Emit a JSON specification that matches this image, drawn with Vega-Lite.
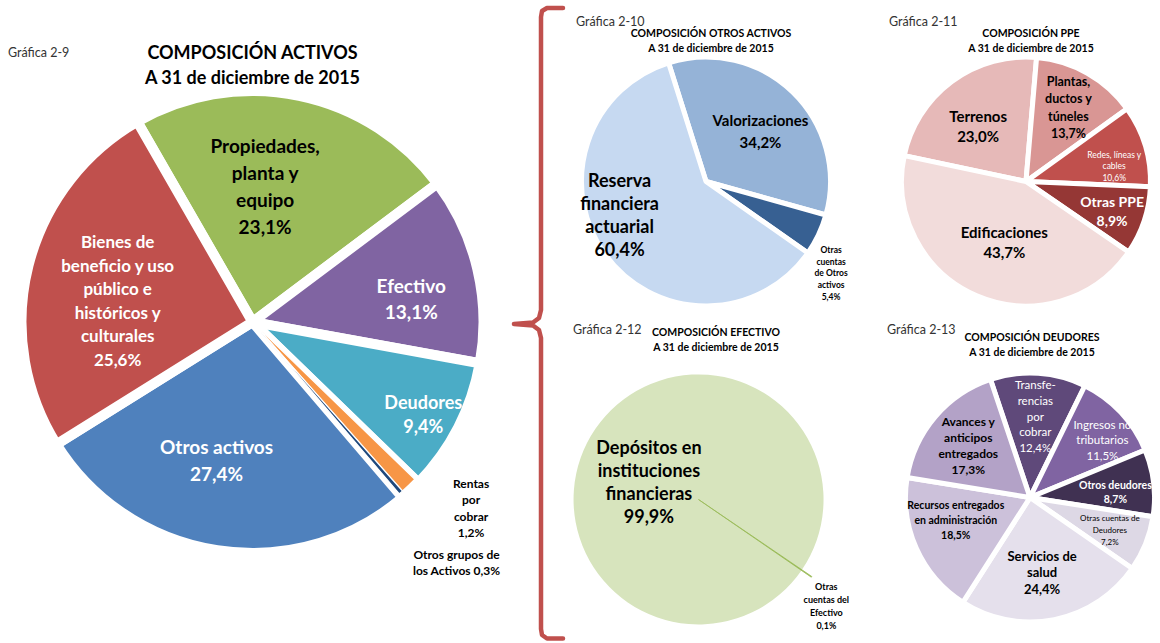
{
"$schema": "https://vega.github.io/schema/vega-lite/v6.json",
"background": "white",
"padding": {"top": 5, "left": 0, "right": 0, "bottom": 0},
"spacing": 0,
"config": {"font": "Lato", "view": {"stroke": null}, "text": {"lineBreak": "\n"}, "title": {"color": "#000000", "fontWeight": "bold", "subtitleColor": "#000000", "subtitleFontWeight": "bold", "subtitleFont": "Lato"}},
"resolve": {"scale": {"color": "independent", "theta": "independent"}},
"hconcat": [
 {"spacing": 0, "resolve": {"scale": {"color": "independent", "theta": "independent"}},
  "vconcat": [
   {"width": 10, "height": 38, "data": {"values": [{}]}, "mark": "text", "encoding": {"text": {"value": ""}}},
   {"spacing": 0, "resolve": {"scale": {"color": "independent", "theta": "independent"}},
    "title": {"text": "Gráfica 2-9", "anchor": "start", "fontSize": 12.5, "fontWeight": "normal", "color": "#333333", "dx": 8, "dy": 14, "offset": 0},
    "vconcat": [
     {"title": {"text": "COMPOSICIÓN ACTIVOS", "subtitle": "A 31 de diciembre de 2015", "fontSize": 18, "subtitleFontSize": 18, "subtitlePadding": 7, "anchor": "middle", "offset": -17},
      "width": 505, "height": 462,
      "data": {"values": [
        {"ord": 1, "name": "Propiedades", "value": 23.1, "label": "Propiedades,\nplanta y\nequipo\n23,1%"},
        {"ord": 2, "name": "Efectivo", "value": 13.1, "label": "Efectivo\n13,1%"},
        {"ord": 3, "name": "Deudores", "value": 9.4, "label": "Deudores\n9,4%"},
        {"ord": 4, "name": "Rentas", "value": 1.2, "label": "Rentas\npor\ncobrar\n1,2%"},
        {"ord": 5, "name": "Otros grupos", "value": 0.3, "label": "Otros grupos de\nlos Activos 0,3%"},
        {"ord": 6, "name": "Otros activos", "value": 27.4, "label": "Otros  activos\n27,4%"},
        {"ord": 7, "name": "Bienes", "value": 25.6, "label": "Bienes de\nbeneficio y uso\npúblico e\nhistóricos y\nculturales\n25,6%"}
      ]},
      "encoding": {
        "theta": {"field": "value", "type": "quantitative", "stack": true, "scale": {"domain": [0, 100.1], "range": [-0.5219, 5.7613]}},
        "order": {"field": "ord", "type": "quantitative"},
        "detail": {"field": "name", "type": "nominal"}
      },
      "layer": [
        {"mark": {"type": "arc", "radius": 231, "stroke": "white", "strokeWidth": 10},
         "encoding": {"color": {"field": "name", "type": "nominal", "legend": null, "scale": {"domain": ["Propiedades", "Efectivo", "Deudores", "Rentas", "Otros grupos", "Otros activos", "Bienes"], "range": ["#9BBB59", "#8064A2", "#4BACC6", "#F79646", "#1F497D", "#4F81BD", "#C0504D"]}}}},
        {"mark": {"type": "arc", "radius": 226, "innerRadius": 14, "stroke": "white", "strokeWidth": 1.2},
         "encoding": {"color": {"field": "name", "type": "nominal", "legend": null}, "opacity": {"condition": {"test": "datum.ord === 4 || datum.ord === 5", "value": 1}, "value": 0}}},
        {"transform": [{"stack": "value", "groupby": [], "sort": [{"field": "ord", "order": "ascending"}], "as": ["v0", "v1"]}, {"filter": "datum.name === 'Propiedades'"}],
         "mark": {"type": "text", "radius": 137, "thetaOffset": 0.7250, "dx": -15, "dy": -40.5, "fontSize": 19, "fontWeight": "bold", "color": "#000000", "lineHeight": 27},
         "encoding": {"theta": {"field": "v0", "type": "quantitative", "stack": null, "scale": {"domain": [0, 100.1], "range": [-0.5219, 5.7613]}}, "text": {"field": "label", "type": "nominal"}}},
        {"transform": [{"stack": "value", "groupby": [], "sort": [{"field": "ord", "order": "ascending"}], "as": ["v0", "v1"]}, {"filter": "datum.name === 'Efectivo'"}],
         "mark": {"type": "text", "radius": 160, "thetaOffset": 0.4111, "dx": 3, "dy": 2, "fontSize": 19, "fontWeight": "bold", "color": "#ffffff", "lineHeight": 26},
         "encoding": {"theta": {"field": "v0", "type": "quantitative", "stack": null, "scale": {"domain": [0, 100.1], "range": [-0.5219, 5.7613]}}, "text": {"field": "label", "type": "nominal"}}},
        {"transform": [{"stack": "value", "groupby": [], "sort": [{"field": "ord", "order": "ascending"}], "as": ["v0", "v1"]}, {"filter": "datum.name === 'Deudores'"}],
         "mark": {"type": "text", "radius": 192, "thetaOffset": 0.2950, "dx": 0, "dy": -6, "fontSize": 18, "fontWeight": "bold", "color": "#ffffff", "lineHeight": 24},
         "encoding": {"theta": {"field": "v0", "type": "quantitative", "stack": null, "scale": {"domain": [0, 100.1], "range": [-0.5219, 5.7613]}}, "text": {"field": "label", "type": "nominal"}}},
        {"transform": [{"stack": "value", "groupby": [], "sort": [{"field": "ord", "order": "ascending"}], "as": ["v0", "v1"]}, {"filter": "datum.name === 'Rentas'"}],
         "mark": {"type": "text", "radius": 280, "thetaOffset": 0.0377, "dx": 25, "dy": -40.75, "fontSize": 12, "fontWeight": "bold", "color": "#000000", "lineHeight": 16.5},
         "encoding": {"theta": {"field": "v0", "type": "quantitative", "stack": null, "scale": {"domain": [0, 100.1], "range": [-0.5219, 5.7613]}}, "text": {"field": "label", "type": "nominal"}}},
        {"transform": [{"stack": "value", "groupby": [], "sort": [{"field": "ord", "order": "ascending"}], "as": ["v0", "v1"]}, {"filter": "datum.name === 'Otros grupos'"}],
         "mark": {"type": "text", "radius": 300, "thetaOffset": 0.0094, "dx": 7, "dy": 7, "fontSize": 12, "fontWeight": "bold", "color": "#000000", "lineHeight": 16},
         "encoding": {"theta": {"field": "v0", "type": "quantitative", "stack": null, "scale": {"domain": [0, 100.1], "range": [-0.5219, 5.7613]}}, "text": {"field": "label", "type": "nominal"}}},
        {"transform": [{"stack": "value", "groupby": [], "sort": [{"field": "ord", "order": "ascending"}], "as": ["v0", "v1"]}, {"filter": "datum.name === 'Otros activos'"}],
         "mark": {"type": "text", "radius": 144, "thetaOffset": 0.8599, "dx": -14, "dy": -16.5, "fontSize": 19, "fontWeight": "bold", "color": "#ffffff", "lineHeight": 27},
         "encoding": {"theta": {"field": "v0", "type": "quantitative", "stack": null, "scale": {"domain": [0, 100.1], "range": [-0.5219, 5.7613]}}, "text": {"field": "label", "type": "nominal"}}},
        {"transform": [{"stack": "value", "groupby": [], "sort": [{"field": "ord", "order": "ascending"}], "as": ["v0", "v1"]}, {"filter": "datum.name === 'Bienes'"}],
         "mark": {"type": "text", "radius": 139, "thetaOffset": 0.8034, "dx": 0, "dy": -44.75, "fontSize": 17, "fontWeight": "bold", "color": "#ffffff", "lineHeight": 23.5},
         "encoding": {"theta": {"field": "v0", "type": "quantitative", "stack": null, "scale": {"domain": [0, 100.1], "range": [-0.5219, 5.7613]}}, "text": {"field": "label", "type": "nominal"}}}
      ]}
    ]}
  ]},
 {"width": 60, "height": 634,
  "data": {"values": [
    {"i": 1, "x": 58, "y": 1}, {"i": 2, "x": 42, "y": 1}, {"i": 3, "x": 37, "y": 4}, {"i": 4, "x": 36, "y": 10},
    {"i": 5, "x": 36, "y": 303}, {"i": 6, "x": 34, "y": 311}, {"i": 7, "x": 28, "y": 315.5}, {"i": 8, "x": 9, "y": 317},
    {"i": 9, "x": 28, "y": 318.5}, {"i": 10, "x": 34, "y": 323}, {"i": 11, "x": 36, "y": 331}, {"i": 12, "x": 36, "y": 622},
    {"i": 13, "x": 37, "y": 628}, {"i": 14, "x": 42, "y": 631.5}, {"i": 15, "x": 58, "y": 631.5}
  ]},
  "mark": {"type": "line", "color": "#C0504D", "strokeWidth": 4.5, "strokeCap": "round", "strokeJoin": "round"},
  "encoding": {
    "x": {"field": "x", "type": "quantitative", "scale": {"domain": [0, 60], "nice": false, "zero": false}, "axis": null},
    "y": {"field": "y", "type": "quantitative", "scale": {"domain": [0, 634], "nice": false, "reverse": true}, "axis": null},
    "order": {"field": "i", "type": "quantitative"}
  }},
 {"spacing": 0, "resolve": {"scale": {"color": "independent", "theta": "independent"}},
  "vconcat": [
   {"width": 10, "height": 8, "data": {"values": [{}]}, "mark": {"type": "text", "fontSize": 1}, "encoding": {"text": {"value": ""}}},
   {"spacing": 41, "resolve": {"scale": {"color": "independent", "theta": "independent"}},
    "hconcat": [
     {"spacing": 0, "resolve": {"scale": {"color": "independent", "theta": "independent"}},
      "title": {"text": "Gráfica 2-10", "anchor": "start", "fontSize": 12.5, "fontWeight": "normal", "color": "#333333", "dx": 10, "offset": 1},
      "vconcat": [
       {"title": {"text": "COMPOSICIÓN  OTROS ACTIVOS", "subtitle": "A 31 de diciembre de 2015", "fontSize": 10.5, "subtitleFontSize": 10.5, "subtitlePadding": 4.5, "anchor": "middle", "offset": 0, "dx": 5},
        "width": 280, "height": 249,
        "data": {"values": [
          {"ord": 1, "name": "Valorizaciones", "value": 34.2, "label": "Valorizaciones\n34,2%"},
          {"ord": 2, "name": "Otras cuentas", "value": 5.4, "label": "Otras\ncuentas\nde Otros\nactivos\n5,4%"},
          {"ord": 3, "name": "Reserva", "value": 60.4, "label": "Reserva\nfinanciera\nactuarial\n60,4%"}
        ]},
        "encoding": {
          "theta": {"field": "value", "type": "quantitative", "stack": true, "scale": {"domain": [0, 100], "range": [-0.30543, 5.97776]}},
          "order": {"field": "ord", "type": "quantitative"},
          "detail": {"field": "name", "type": "nominal"}
        },
        "layer": [
          {"mark": {"type": "arc", "radius": 124.5, "stroke": "white", "strokeWidth": 5, "strokeJoin": "bevel"},
           "encoding": {"color": {"field": "name", "type": "nominal", "legend": null, "scale": {"domain": ["Valorizaciones", "Otras cuentas", "Reserva"], "range": ["#95B3D7", "#376092", "#C6D9F1"]}}}},
          {"transform": [{"stack": "value", "groupby": [], "sort": [{"field": "ord", "order": "ascending"}], "as": ["v0", "v1"]}, {"filter": "datum.name === 'Valorizaciones'"}],
           "mark": {"type": "text", "radius": 74, "thetaOffset": 1.0744, "dx": 3, "dy": -7, "fontSize": 15, "fontWeight": "bold", "color": "#000000", "lineHeight": 22},
           "encoding": {"theta": {"field": "v0", "type": "quantitative", "stack": null, "scale": {"domain": [0, 100], "range": [-0.30543, 5.97776]}}, "text": {"field": "label", "type": "nominal"}}},
          {"transform": [{"stack": "value", "groupby": [], "sort": [{"field": "ord", "order": "ascending"}], "as": ["v0", "v1"]}, {"filter": "datum.name === 'Otras cuentas'"}],
           "mark": {"type": "text", "radius": 155, "thetaOffset": 0.1696, "dx": -15, "dy": 2, "fontSize": 8.5, "fontWeight": "bold", "color": "#000000", "lineHeight": 11.7},
           "encoding": {"theta": {"field": "v0", "type": "quantitative", "stack": null, "scale": {"domain": [0, 100], "range": [-0.30543, 5.97776]}}, "text": {"field": "label", "type": "nominal"}}},
          {"transform": [{"stack": "value", "groupby": [], "sort": [{"field": "ord", "order": "ascending"}], "as": ["v0", "v1"]}, {"filter": "datum.name === 'Reserva'"}],
           "mark": {"type": "text", "radius": 96, "thetaOffset": 1.8975, "dx": -9, "dy": -56.5, "fontSize": 18, "fontWeight": "bold", "color": "#000000", "lineHeight": 23},
           "encoding": {"theta": {"field": "v0", "type": "quantitative", "stack": null, "scale": {"domain": [0, 100], "range": [-0.30543, 5.97776]}}, "text": {"field": "label", "type": "nominal"}}}
        ]}
      ]},
     {"spacing": 0, "resolve": {"scale": {"color": "independent", "theta": "independent"}},
      "title": {"text": "Gráfica 2-11", "anchor": "start", "fontSize": 12.5, "fontWeight": "normal", "color": "#333333", "dx": -2, "offset": 1},
      "vconcat": [
       {"title": {"text": "COMPOSICIÓN  PPE", "subtitle": "A 31 de diciembre de 2015", "fontSize": 10.5, "subtitleFontSize": 10.5, "subtitlePadding": 4.5, "anchor": "middle", "offset": 0, "dx": 5},
        "width": 270, "height": 249,
        "data": {"values": [
          {"ord": 1, "name": "Terrenos", "value": 23.0, "label": "Terrenos\n23,0%"},
          {"ord": 2, "name": "Plantas", "value": 13.7, "label": "Plantas,\nductos y\ntúneles\n13,7%"},
          {"ord": 3, "name": "Redes", "value": 10.6, "label": "Redes, líneas y\ncables\n10,6%"},
          {"ord": 4, "name": "Otras PPE", "value": 8.9, "label": "Otras PPE\n8,9%"},
          {"ord": 5, "name": "Edificaciones", "value": 43.7, "label": "Edificaciones\n43,7%"}
        ]},
        "encoding": {
          "theta": {"field": "value", "type": "quantitative", "stack": true, "scale": {"domain": [0, 99.9], "range": [-1.36136, 4.92183]}},
          "order": {"field": "ord", "type": "quantitative"},
          "detail": {"field": "name", "type": "nominal"}
        },
        "layer": [
          {"mark": {"type": "arc", "radius": 124.5, "stroke": "white", "strokeWidth": 5, "strokeJoin": "bevel"},
           "encoding": {"color": {"field": "name", "type": "nominal", "legend": null, "scale": {"domain": ["Terrenos", "Plantas", "Redes", "Otras PPE", "Edificaciones"], "range": ["#E6B9B8", "#D99694", "#C0504D", "#953735", "#F2DCDB"]}}}},
          {"transform": [{"stack": "value", "groupby": [], "sort": [{"field": "ord", "order": "ascending"}], "as": ["v0", "v1"]}, {"filter": "datum.name === 'Terrenos'"}],
           "mark": {"type": "text", "radius": 72, "thetaOffset": 0.7233, "dx": -5, "dy": -7, "fontSize": 15, "fontWeight": "bold", "color": "#000000", "lineHeight": 20},
           "encoding": {"theta": {"field": "v0", "type": "quantitative", "stack": null, "scale": {"domain": [0, 99.9], "range": [-1.36136, 4.92183]}}, "text": {"field": "label", "type": "nominal"}}},
          {"transform": [{"stack": "value", "groupby": [], "sort": [{"field": "ord", "order": "ascending"}], "as": ["v0", "v1"]}, {"filter": "datum.name === 'Plantas'"}],
           "mark": {"type": "text", "radius": 86, "thetaOffset": 0.4308, "dx": 0, "dy": -24.75, "fontSize": 12.5, "fontWeight": "bold", "color": "#000000", "lineHeight": 17.5},
           "encoding": {"theta": {"field": "v0", "type": "quantitative", "stack": null, "scale": {"domain": [0, 99.9], "range": [-1.36136, 4.92183]}}, "text": {"field": "label", "type": "nominal"}}},
          {"transform": [{"stack": "value", "groupby": [], "sort": [{"field": "ord", "order": "ascending"}], "as": ["v0", "v1"]}, {"filter": "datum.name === 'Redes'"}],
           "mark": {"type": "text", "radius": 91, "thetaOffset": 0.3333, "dx": 1, "dy": -0.5, "fontSize": 8.5, "fontWeight": "normal", "color": "#ffffff", "lineHeight": 11.5},
           "encoding": {"theta": {"field": "v0", "type": "quantitative", "stack": null, "scale": {"domain": [0, 99.9], "range": [-1.36136, 4.92183]}}, "text": {"field": "label", "type": "nominal"}}},
          {"transform": [{"stack": "value", "groupby": [], "sort": [{"field": "ord", "order": "ascending"}], "as": ["v0", "v1"]}, {"filter": "datum.name === 'Otras PPE'"}],
           "mark": {"type": "text", "radius": 95, "thetaOffset": 0.2799, "dx": -4, "dy": -8.25, "fontSize": 14, "fontWeight": "bold", "color": "#ffffff", "lineHeight": 18.5},
           "encoding": {"theta": {"field": "v0", "type": "quantitative", "stack": null, "scale": {"domain": [0, 99.9], "range": [-1.36136, 4.92183]}}, "text": {"field": "label", "type": "nominal"}}},
          {"transform": [{"stack": "value", "groupby": [], "sort": [{"field": "ord", "order": "ascending"}], "as": ["v0", "v1"]}, {"filter": "datum.name === 'Edificaciones'"}],
           "mark": {"type": "text", "radius": 65, "thetaOffset": 1.3742, "dx": 4, "dy": -8, "fontSize": 15, "fontWeight": "bold", "color": "#000000", "lineHeight": 20},
           "encoding": {"theta": {"field": "v0", "type": "quantitative", "stack": null, "scale": {"domain": [0, 99.9], "range": [-1.36136, 4.92183]}}, "text": {"field": "label", "type": "nominal"}}}
        ]}
      ]}
    ]},
   {"width": 10, "height": 15, "data": {"values": [{}]}, "mark": "text", "encoding": {"text": {"value": ""}}},
   {"spacing": 37, "resolve": {"scale": {"color": "independent", "theta": "independent"}},
    "hconcat": [
     {"spacing": 0, "resolve": {"scale": {"color": "independent", "theta": "independent"}},
      "title": {"text": "Gráfica 2-12", "anchor": "start", "fontSize": 12.5, "fontWeight": "normal", "color": "#333333", "dx": 7, "dy": 9, "offset": 0},
      "vconcat": [
       {"title": {"text": "COMPOSICIÓN  EFECTIVO", "subtitle": "A 31 de diciembre de 2015", "fontSize": 10.5, "subtitleFontSize": 10.5, "subtitlePadding": 4.5, "anchor": "middle", "offset": 4, "dx": 17.5},
        "width": 265, "height": 285,
        "data": {"values": [
          {"ord": 1, "name": "Otras", "value": 0.1, "label": "Otras\ncuentas del\nEfectivo\n0,1%"},
          {"ord": 2, "name": "Depósitos", "value": 99.9, "label": "Depósitos en\ninstituciones\nfinancieras\n99,9%"}
        ]},
        "encoding": {
          "theta": {"field": "value", "type": "quantitative", "stack": true, "scale": {"domain": [0, 100], "range": [2.1677, 8.45089]}},
          "order": {"field": "ord", "type": "quantitative"},
          "detail": {"field": "name", "type": "nominal"}
        },
        "layer": [
          {"mark": {"type": "arc", "radius": 125},
           "encoding": {"color": {"field": "name", "type": "nominal", "legend": null, "scale": {"domain": ["Otras", "Depósitos"], "range": ["#9BBB59", "#D7E4BD"]}}}},
          {"transform": [{"stack": "value", "groupby": [], "sort": [{"field": "ord", "order": "ascending"}], "as": ["v0", "v1"]}, {"filter": "datum.name === 'Otras'"}],
           "mark": {"type": "arc", "radius": 137, "stroke": "#9BBB59", "strokeWidth": 0.8, "color": "#9BBB59"},
           "encoding": {"theta": {"field": "v0", "type": "quantitative", "stack": null, "scale": {"domain": [0, 100], "range": [2.1677, 8.45089]}}, "theta2": {"field": "v1"}}},
          {"transform": [{"stack": "value", "groupby": [], "sort": [{"field": "ord", "order": "ascending"}], "as": ["v0", "v1"]}, {"filter": "datum.name === 'Depósitos'"}],
           "mark": {"type": "text", "radius": 51, "thetaOffset": 3.1384, "dx": -7.5, "dy": -21.5, "fontSize": 18, "fontWeight": "bold", "color": "#000000", "lineHeight": 23},
           "encoding": {"theta": {"field": "v0", "type": "quantitative", "stack": null, "scale": {"domain": [0, 100], "range": [2.1677, 8.45089]}}, "text": {"field": "label", "type": "nominal"}}},
          {"transform": [{"stack": "value", "groupby": [], "sort": [{"field": "ord", "order": "ascending"}], "as": ["v0", "v1"]}, {"filter": "datum.name === 'Otras'"}],
           "mark": {"type": "text", "radius": 167, "thetaOffset": 0.0031, "dx": -10, "dy": -6.5, "fontSize": 9, "fontWeight": "bold", "color": "#000000", "lineHeight": 13},
           "encoding": {"theta": {"field": "v0", "type": "quantitative", "stack": null, "scale": {"domain": [0, 100], "range": [2.1677, 8.45089]}}, "text": {"field": "label", "type": "nominal"}}}
        ]}
      ]},
     {"spacing": 0, "resolve": {"scale": {"color": "independent", "theta": "independent"}},
      "title": {"text": "Gráfica 2-13", "anchor": "start", "fontSize": 12.5, "fontWeight": "normal", "color": "#333333", "dx": -14, "dy": 4, "offset": 0},
      "vconcat": [
       {"title": {"text": "COMPOSICIÓN  DEUDORES", "subtitle": "A 31 de diciembre de 2015", "fontSize": 10.5, "subtitleFontSize": 10.5, "subtitlePadding": 4.5, "anchor": "middle", "offset": -1, "dx": 2},
        "width": 258, "height": 281,
        "data": {"values": [
          {"ord": 1, "name": "Transferencias", "value": 12.4, "label": "Transfe-\nrencias\npor\ncobrar\n12,4%"},
          {"ord": 2, "name": "Ingresos", "value": 11.5, "label": "Ingresos no\ntributarios\n11,5%"},
          {"ord": 3, "name": "Otros deudores", "value": 8.7, "label": "Otros deudores\n8,7%"},
          {"ord": 4, "name": "Otras cuentas", "value": 7.2, "label": "Otras cuentas de\nDeudores\n7,2%"},
          {"ord": 5, "name": "Servicios", "value": 24.4, "label": "Servicios de\nsalud\n24,4%"},
          {"ord": 6, "name": "Recursos", "value": 18.5, "label": "Recursos entregados\nen administración\n18,5%"},
          {"ord": 7, "name": "Avances", "value": 17.3, "label": "Avances y\nanticipos\nentregados\n17,3%"}
        ]},
        "encoding": {
          "theta": {"field": "value", "type": "quantitative", "stack": true, "scale": {"domain": [0, 100], "range": [-0.32289, 5.9603]}},
          "order": {"field": "ord", "type": "quantitative"},
          "detail": {"field": "name", "type": "nominal"}
        },
        "layer": [
          {"mark": {"type": "arc", "radius": 124.5, "stroke": "white", "strokeWidth": 5, "strokeJoin": "bevel"},
           "encoding": {"color": {"field": "name", "type": "nominal", "legend": null, "scale": {"domain": ["Transferencias", "Ingresos", "Otros deudores", "Otras cuentas", "Servicios", "Recursos", "Avances"], "range": ["#5F497A", "#8064A2", "#403152", "#DDD8E5", "#E5E0EC", "#CCC1DA", "#B3A2C7"]}}}},
          {"transform": [{"stack": "value", "groupby": [], "sort": [{"field": "ord", "order": "ascending"}], "as": ["v0", "v1"]}, {"filter": "datum.name === 'Transferencias'"}],
           "mark": {"type": "text", "radius": 80, "thetaOffset": 0.3896, "dx": 0, "dy": -31.2, "fontSize": 11.5, "fontWeight": "normal", "color": "#ffffff", "lineHeight": 15.6},
           "encoding": {"theta": {"field": "v0", "type": "quantitative", "stack": null, "scale": {"domain": [0, 100], "range": [-0.32289, 5.9603]}}, "text": {"field": "label", "type": "nominal"}}},
          {"transform": [{"stack": "value", "groupby": [], "sort": [{"field": "ord", "order": "ascending"}], "as": ["v0", "v1"]}, {"filter": "datum.name === 'Ingresos'"}],
           "mark": {"type": "text", "radius": 91, "thetaOffset": 0.3613, "dx": 6, "dy": -9.5, "fontSize": 11.5, "fontWeight": "normal", "color": "#ffffff", "lineHeight": 15.5},
           "encoding": {"theta": {"field": "v0", "type": "quantitative", "stack": null, "scale": {"domain": [0, 100], "range": [-0.32289, 5.9603]}}, "text": {"field": "label", "type": "nominal"}}},
          {"transform": [{"stack": "value", "groupby": [], "sort": [{"field": "ord", "order": "ascending"}], "as": ["v0", "v1"]}, {"filter": "datum.name === 'Otros deudores'"}],
           "mark": {"type": "text", "radius": 86, "thetaOffset": 0.2733, "dx": 0, "dy": -1.5, "fontSize": 10.5, "fontWeight": "bold", "color": "#ffffff", "lineHeight": 14},
           "encoding": {"theta": {"field": "v0", "type": "quantitative", "stack": null, "scale": {"domain": [0, 100], "range": [-0.32289, 5.9603]}}, "text": {"field": "label", "type": "nominal"}}},
          {"transform": [{"stack": "value", "groupby": [], "sort": [{"field": "ord", "order": "ascending"}], "as": ["v0", "v1"]}, {"filter": "datum.name === 'Otras cuentas'"}],
           "mark": {"type": "text", "radius": 86, "thetaOffset": 0.2262, "dx": 0, "dy": -10, "fontSize": 8, "fontWeight": "normal", "color": "#000000", "lineHeight": 12},
           "encoding": {"theta": {"field": "v0", "type": "quantitative", "stack": null, "scale": {"domain": [0, 100], "range": [-0.32289, 5.9603]}}, "text": {"field": "label", "type": "nominal"}}},
          {"transform": [{"stack": "value", "groupby": [], "sort": [{"field": "ord", "order": "ascending"}], "as": ["v0", "v1"]}, {"filter": "datum.name === 'Servicios'"}],
           "mark": {"type": "text", "radius": 77, "thetaOffset": 0.7665, "dx": -3, "dy": -16.5, "fontSize": 13, "fontWeight": "bold", "color": "#000000", "lineHeight": 16.5},
           "encoding": {"theta": {"field": "v0", "type": "quantitative", "stack": null, "scale": {"domain": [0, 100], "range": [-0.32289, 5.9603]}}, "text": {"field": "label", "type": "nominal"}}},
          {"transform": [{"stack": "value", "groupby": [], "sort": [{"field": "ord", "order": "ascending"}], "as": ["v0", "v1"]}, {"filter": "datum.name === 'Recursos'"}],
           "mark": {"type": "text", "radius": 78, "thetaOffset": 0.5812, "dx": -3, "dy": -23, "fontSize": 10.5, "fontWeight": "bold", "color": "#000000", "lineHeight": 15},
           "encoding": {"theta": {"field": "v0", "type": "quantitative", "stack": null, "scale": {"domain": [0, 100], "range": [-0.32289, 5.9603]}}, "text": {"field": "label", "type": "nominal"}}},
          {"transform": [{"stack": "value", "groupby": [], "sort": [{"field": "ord", "order": "ascending"}], "as": ["v0", "v1"]}, {"filter": "datum.name === 'Avances'"}],
           "mark": {"type": "text", "radius": 81, "thetaOffset": 0.5435, "dx": 0, "dy": -23, "fontSize": 12, "fontWeight": "bold", "color": "#000000", "lineHeight": 16},
           "encoding": {"theta": {"field": "v0", "type": "quantitative", "stack": null, "scale": {"domain": [0, 100], "range": [-0.32289, 5.9603]}}, "text": {"field": "label", "type": "nominal"}}}
        ]}
      ]}
    ]}
  ]}
]
}
